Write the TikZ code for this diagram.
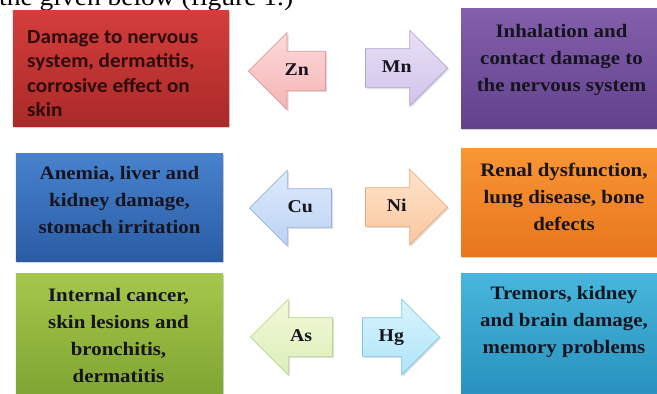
\documentclass[tikz,border=0pt]{standalone}
\usepackage{fontspec}
\setmainfont{Liberation Serif}
\newfontfamily\tnrfont[FakeStretch=1.1]{Liberation Serif}
\newfontfamily\carfont[FakeStretch=1.06]{Carlito}
\usepackage{tikz}
\usetikzlibrary{shapes.arrows, shadows}
\usepackage{xcolor}
\definecolor{inkdark}{RGB}{22,20,30}
\definecolor{inkred}{RGB}{45,12,12}
\definecolor{redtop}{RGB}{212,62,60}
\definecolor{redbot}{RGB}{170,42,40}
\definecolor{purtop}{RGB}{132,95,172}
\definecolor{purbot}{RGB}{98,66,140}
\definecolor{blutop}{RGB}{72,130,205}
\definecolor{blubot}{RGB}{42,92,165}
\definecolor{oratop}{RGB}{248,150,52}
\definecolor{orabot}{RGB}{232,118,30}
\definecolor{gretop}{RGB}{165,200,75}
\definecolor{grebot}{RGB}{128,165,50}
\definecolor{cyatop}{RGB}{72,182,220}
\definecolor{cyabot}{RGB}{40,145,190}
\definecolor{pinklt}{RGB}{252,218,218}
\definecolor{pinkdk}{RGB}{245,180,180}
\definecolor{pinkln}{RGB}{228,150,150}
\definecolor{lavlt}{RGB}{232,224,246}
\definecolor{lavdk}{RGB}{208,196,234}
\definecolor{lavln}{RGB}{178,162,214}
\definecolor{skylt}{RGB}{222,234,250}
\definecolor{skydk}{RGB}{188,210,244}
\definecolor{skyln}{RGB}{148,178,224}
\definecolor{peachlt}{RGB}{255,228,204}
\definecolor{peachdk}{RGB}{250,198,158}
\definecolor{peachln}{RGB}{234,168,118}
\definecolor{limelt}{RGB}{242,249,218}
\definecolor{limedk}{RGB}{220,238,184}
\definecolor{limeln}{RGB}{188,214,138}
\definecolor{aqualt}{RGB}{218,244,252}
\definecolor{aquadk}{RGB}{174,228,248}
\definecolor{aqualn}{RGB}{118,198,230}

\begin{document}
\begin{tikzpicture}[x=1bp, y=-1bp,
  box/.style={rectangle, inner sep=0pt, minimum width=207bp, minimum height=108bp,
              drop shadow={opacity=0.35, shadow xshift=1bp, shadow yshift=-1.5bp}},
  boxtxt/.style={font=\tnrfont\bfseries\fontsize{19bp}{27bp}\selectfont,
                 align=center, text=inkdark, inner sep=0pt},
  elem/.style={single arrow, draw, line width=0.7bp, minimum height=82bp,
               minimum width=75bp, single arrow head extend=18.5bp,
               text height=12bp, text depth=4bp, inner xsep=2bp, inner ysep=11bp,
               font=\tnrfont\bfseries\fontsize{18bp}{20bp}\selectfont, text=inkdark,
               drop shadow={opacity=0.25, shadow xshift=1.5bp, shadow yshift=-1.5bp}},
  toleft/.style={elem, shape border rotate=180, anchor=tip},
  toright/.style={elem, anchor=tip}
]
\useasboundingbox (0,0) rectangle (657,393);

\node[anchor=base west, inner sep=0pt, font=\tnrfont\fontsize{25bp}{27bp}\selectfont] (cap) at (-1,5) {the given below (figure 1.)};

% effect boxes
\node[box, top color=redtop, bottom color=redbot, minimum width=216bp, minimum height=116bp] (znbox) at (121,68) {};
\node[box, top color=purtop, bottom color=purbot, minimum width=201bp, minimum height=120bp] (mnbox) at (561.5,68) {};
\node[box, top color=blutop, bottom color=blubot] (cubox) at (119.5,207) {};
\node[box, top color=oratop, bottom color=orabot, minimum width=201bp] (nibox) at (561.5,202) {};
\node[box, top color=gretop, bottom color=grebot, minimum height=120bp] (asbox) at (119.5,333) {};
\node[box, top color=cyatop, bottom color=cyabot, minimum width=201bp, minimum height=122bp] (hgbox) at (561.5,334) {};

\node[anchor=west, align=left, inner sep=0pt, text=inkred, font=\carfont\bfseries\fontsize{20bp}{24.5bp}\selectfont] (zntxt) at (27,73.5) {Damage to nervous\\ system, dermatitis,\\ corrosive effect on\\ skin};
\node[boxtxt] (mntxt) at (561.5,60) {Inhalation and\\ contact damage to\\ the nervous system};
\node[boxtxt] (cutxt) at (119.5,200) {Anemia, liver and\\ kidney damage,\\ stomach irritation};
\node[boxtxt] (nitxt) at (564,197) {Renal dysfunction,\\ lung disease, bone\\ defects};
\node[boxtxt] (astxt) at (118.5,335) {Internal cancer,\\ skin lesions and\\ bronchitis,\\ dermatitis};
\node[boxtxt] (hgtxt) at (564,322) {Tremors, kidney\\ and brain damage,\\ memory problems};

% element arrows
\node[toleft, top color=pinklt, bottom color=pinkdk, draw=pinkln, minimum width=77bp, minimum height=77bp] (zn) at (248,71) {Zn};
\node[toright, top color=lavlt, bottom color=lavdk, draw=lavln, minimum width=70bp] (mn) at (448,68) {Mn};
\node[toleft, top color=skylt, bottom color=skydk, draw=skyln] (cu) at (249,208) {Cu};
\node[toright, top color=peachlt, bottom color=peachdk, draw=peachln] (ni) at (448,207) {Ni};
\node[toleft, top color=limelt, bottom color=limedk, draw=limeln] (as) at (250,337) {As};
\node[toright, top color=aqualt, bottom color=aquadk, draw=aqualn, minimum height=77bp] (hg) at (440,337) {Hg};
\end{tikzpicture}
\end{document}
